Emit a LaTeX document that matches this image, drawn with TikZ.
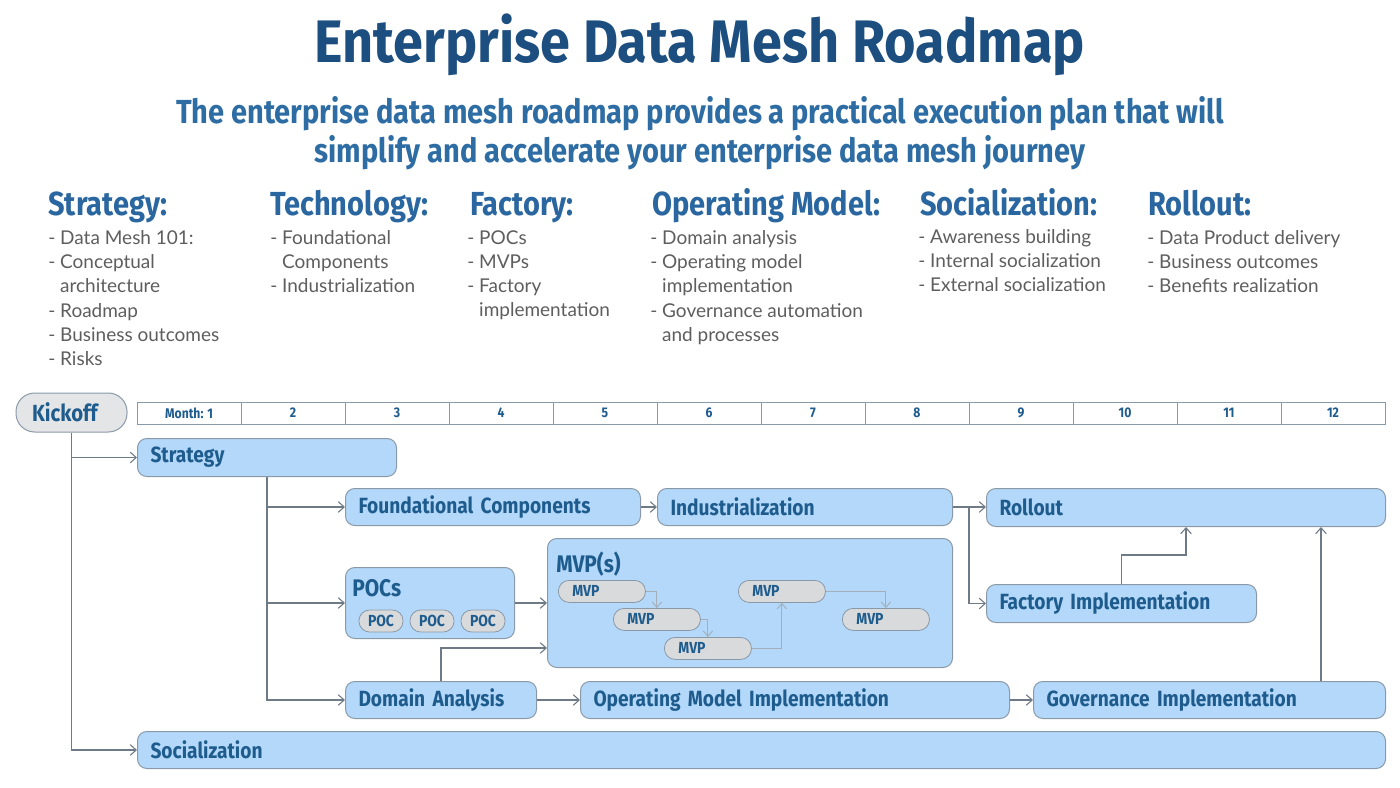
\documentclass[tikz,border=0pt]{standalone}
\usepackage{fontspec}
\setmainfont{Lato}
\newfontfamily\cond[FakeStretch=0.87]{Fira Sans}
\newfontfamily\condt[FakeStretch=0.9]{Fira Sans}
\usetikzlibrary{arrows.meta,calc,shapes.misc}
\definecolor{titleblue}{HTML}{1C4E80}
\definecolor{subblue}{HTML}{2E6DA4}
\definecolor{headblue}{HTML}{2A67A0}
\definecolor{textblue}{HTML}{1F5C8E}
\definecolor{bodygray}{HTML}{5E5E5E}
\definecolor{barfill}{HTML}{B3D8FA}
\definecolor{barline}{HTML}{8A99A8}
\definecolor{connc}{HTML}{6E7A86}
\definecolor{pillfill}{HTML}{D9DADC}
\definecolor{mvpline}{HTML}{A3AEB8}
\newcommand\phase[6]{\node[bar, minimum width={(#4-#2)*0.75pt}, minimum height={(#5-#3)*0.75pt}, text width={(#4-#2-26)*0.75pt}] (#1) at (#2,#3) {#6};}
\newcommand\mvppill[3]{\node[mvp] (#1) at (#2,#3) {MVP};}
\tikzset{
  bar/.style={anchor=north west, draw=barline, fill=barfill, line width=0.75pt, rounded corners=7pt, inner xsep=9.75pt, inner ysep=0pt, align=left, font=\cond\bfseries\fontsize{16.5}{18}\selectfont, text=textblue},
  conn/.style={draw=connc, line width=0.8pt, -{Straight Barb[length=4.5pt,width=8pt]}},
  mvpconn/.style={draw=mvpline, line width=0.7pt, -{Straight Barb[length=4pt,width=7pt]}},
  mvp/.style={anchor=north west, draw=barline, fill=pillfill, line width=0.6pt, rounded corners=8pt, minimum width={87*0.75pt}, minimum height={22*0.75pt}, text width={(87-28)*0.75pt}, inner xsep=10.5pt, inner ysep=0pt, align=left, font=\cond\bfseries\fontsize{12}{13}\selectfont, text=textblue},
  poc/.style={draw=barline, fill=pillfill, line width=0.6pt, rounded corners=8pt, minimum width={44*0.75pt}, minimum height={22*0.75pt}, inner sep=0pt, font=\cond\bfseries\fontsize{12}{13}\selectfont, text=textblue},
  cell/.style={draw=barline, fill=white, line width=0.6pt, minimum width={104*0.75pt}, minimum height={22*0.75pt}, inner sep=0pt, font=\cond\bfseries\fontsize{10.5}{12}\selectfont, text=textblue},
  head/.style={anchor=base west, inner sep=0pt, font=\cond\bfseries\fontsize{25}{27}\selectfont, text=headblue},
  list/.style={anchor=north west, inner sep=0pt, align=left, font=\fontsize{14.25}{18.2}\selectfont, text=bodygray},
  boxtitle/.style={anchor=north west, inner sep=0pt, font=\cond\bfseries\fontsize{18}{20}\selectfont, text=textblue},
}
\begin{document}
\begin{tikzpicture}[x=0.75pt,y=-0.75pt]
\useasboundingbox[fill=white] (0,0) rectangle (1400,788);
% title
\node[font=\condt\bfseries\fontsize{45}{50}\selectfont, text=titleblue, inner sep=0pt] (title) at (700,45) {Enterprise Data Mesh Roadmap};
\node[font=\cond\bfseries\fontsize{25}{29.3}\selectfont, text=subblue, align=center, inner sep=0pt] (sub) at (700,133) {The enterprise data mesh roadmap provides a practical execution plan that will\\simplify and accelerate your enterprise data mesh journey};
% headings
\node[head] (hStrat) at (48,216) {Strategy:};
\node[head] (hTech) at (270,216) {Technology:};
\node[head] (hFact) at (470,216) {Factory:};
\node[head] (hOpm) at (652,216) {Operating Model:};
\node[head] (hSoc) at (920,216) {Socialization:};
\node[head] (hRoll) at (1148,216) {Rollout:};
% lists
\node[list] (lStrat) at (48,230) {- Data Mesh 101:\\- Conceptual\\\hphantom{- }architecture\\- Roadmap\\- Business outcomes\\- Risks};
\node[list] (lTech) at (270,230) {- Foundational\\\hphantom{- }Components\\- Industrialization};
\node[list] (lFact) at (467,230) {- POCs\\- MVPs\\- Factory\\\hphantom{- }implementation};
\node[list] (lOpm) at (650,230) {- Domain analysis\\- Operating model\\\hphantom{- }implementation\\- Governance automation\\\hphantom{- }and processes};
\node[list] (lSoc) at (918,229) {- Awareness building\\- Internal socialization\\- External socialization};
\node[list] (lRoll) at (1147,230) {- Data Product delivery\\- Business outcomes\\- Benefits realization};
% kickoff and months
\node[draw=barline, fill=pillfill!70, line width=0.75pt, rounded corners=14pt, minimum width={111*0.75pt}, minimum height={39*0.75pt}, text width={(111-32)*0.75pt}, inner xsep=12pt, inner ysep=0pt, align=left, font=\cond\bfseries\fontsize{17.5}{19}\selectfont, text=textblue] (kick) at (71.5,412.5) {Kickoff};
\foreach \i in {1,...,12}{
  \node[cell] (m\i) at ({137+104*(\i-0.5)},413) {\ifnum\i=1 Month: 1\else\i\fi};
}
% bars
\phase{strat}{137}{438}{396}{476}{Strategy}
\phase{found}{345}{488}{640}{525}{Foundational Components}
\phase{indus}{657}{488}{952}{525}{Industrialization}
\phase{roll}{986}{488}{1385}{526}{Rollout}
\phase{pocs}{345}{567}{514}{638}{}
\phase{mvps}{547}{538}{952}{667}{}
\phase{fact}{986}{584}{1256}{622}{Factory Implementation}
\phase{domain}{345}{681}{536}{718}{Domain Analysis}
\phase{opm}{580}{681}{1009}{718}{Operating Model Implementation}
\phase{gov}{1033}{681}{1385}{718}{Governance Implementation}
\phase{social}{137}{731}{1385}{768}{Socialization}
\node[boxtitle] (pocsT) at (352,579) {POCs};
\node[boxtitle] (mvpsT) at (556,552) {MVP(s)};
% POC pills
\node[poc] (poc1) at (381,621) {POC};
\node[poc] (poc2) at (432,621) {POC};
\node[poc] (poc3) at (483,621) {POC};
% MVP pills
\mvppill{mvp1}{558}{580}
\mvppill{mvp2}{613}{608}
\mvppill{mvp3}{664}{637}
\mvppill{mvp4}{738}{580}
\mvppill{mvp5}{842}{608}
\draw[mvpconn] (mvp1.east) -| (mvp2.north);
\draw[mvpconn] (mvp2.east) -| (mvp3.north);
\draw[mvpconn] (mvp3.east) -| (mvp4.south);
\draw[mvpconn] (mvp4.east) -| (mvp5.north);
% connectors
\draw[conn] (kick.south) |- (strat.west);
\draw[conn] (kick.south) |- (social.west);
\draw[conn] (strat.south) |- (found.west);
\draw[conn] (strat.south) |- (pocs.west);
\draw[conn] (strat.south) |- (domain.west);
\draw[conn] (found.east) -- (indus.west);
\draw[conn] (pocs.east) -- (pocs.east -| mvps.west);
\coordinate (mvpin) at (547,648);
\draw[conn] (domain.north) |- (mvpin);
\draw[conn] (indus.east) -- (indus.east -| roll.west);
\coordinate (split) at (969,507);
\draw[conn] (split) |- (fact.west);
\draw[conn] (fact.north) -- ++(0,-29) -| (roll.south);
\draw[conn] (domain.east) -- (opm.west);
\draw[conn] (opm.east) -- (gov.west);
\coordinate (gv) at ($(gov.north west)+(288,0)$);
\draw[conn] (gv) -- (gv |- roll.south);
\end{tikzpicture}
\end{document}
